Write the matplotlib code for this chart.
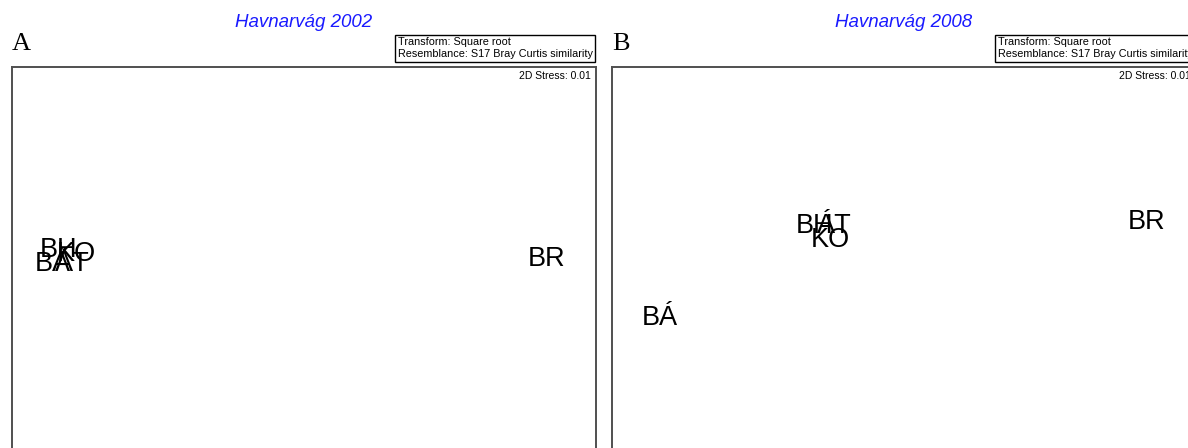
import matplotlib
matplotlib.use("Agg")
import matplotlib.pyplot as plt

# MDS coordinates (arbitrary units, axes run -1.5..1.5)
sites_2002 = ["BH", "BÁ", "KO", "ÁT", "BR"]
x_2002 = [-1.26, -1.29, -1.17, -1.19, 1.248]
y_2002 = [0.356, 0.269, 0.331, 0.269, 0.300]

sites_2008 = ["BH", "ÁT", "KO", "BÁ", "BR"]
x_2008 = [-0.46, -0.36, -0.38, -1.253, 1.248]
y_2008 = [0.506, 0.506, 0.419, -0.069, 0.531]

titles = ["Havnarvág 2002", "Havnarvág 2008"]
letters = ["A", "B"]
info = "Transform: Square root\nResemblance: S17 Bray Curtis similarity"
stress = ["2D Stress: 0.01", "2D Stress: 0.01"]

W, H = 1188, 448
fig = plt.figure(figsize=(W / 100, H / 100), dpi=100)
plt.rcParams["font.family"] = ["Liberation Sans", "DejaVu Sans"]

ax_h = 480
panels = [
    (12, sites_2002, x_2002, y_2002),
    (612, sites_2008, x_2008, y_2008),
]

for i, (left, names, xs, ys) in enumerate(panels):
    ax = fig.add_axes([left / W, 1 - (67 + ax_h) / H, 584 / W, ax_h / H])
    ax.set_xlim(-1.5, 1.5)
    ax.set_ylim(-1.5, 1.5)
    ax.set_xticks([])
    ax.set_yticks([])
    for s in ax.spines.values():
        s.set_color("#505050")
        s.set_linewidth(1.4)

    for n, x, y in zip(names, xs, ys):
        ax.text(x, y, n, ha="center", va="center", fontsize=19.5)

    ax.annotate(titles[i], xy=(0.5, 1), xycoords="axes fraction",
                xytext=(0, 32), textcoords="offset points",
                ha="center", va="center", fontsize=13.5, style="italic",
                color="#1a1aff", annotation_clip=False)
    ax.annotate(info, xy=(1, 1), xycoords="axes fraction",
                xytext=(-2.5, 5.5), textcoords="offset points",
                ha="right", va="bottom", fontsize=7.8, linespacing=1.3,
                multialignment="left",
                bbox=dict(boxstyle="square,pad=0.2", fc="white", ec="black", lw=1),
                annotation_clip=False)
    ax.annotate(stress[i], xy=(1, 1), xycoords="axes fraction",
                xytext=(-3.5, -3), textcoords="offset points",
                ha="right", va="top", fontsize=7.5)

    fig.text(left / W, 1 - 50 / H, letters[i], ha="left", va="baseline",
             fontsize=19, family="Liberation Serif")

fig.savefig("out.png", dpi=100)
